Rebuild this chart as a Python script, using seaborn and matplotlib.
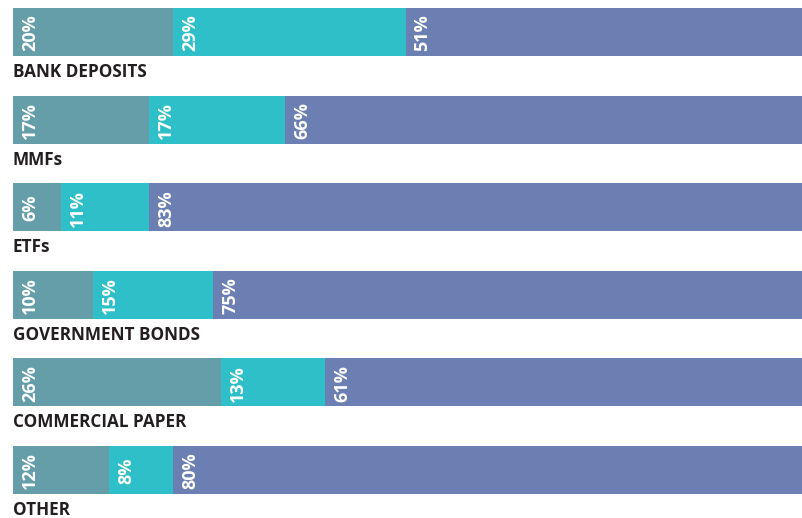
import matplotlib
matplotlib.use("Agg")
import matplotlib.pyplot as plt
import seaborn as sns
import pandas as pd
import numpy as np

categories = ["BANK DEPOSITS", "MMFs", "ETFs", "GOVERNMENT BONDS", "COMMERCIAL PAPER", "OTHER"]
seg1 = [20, 17, 6, 10, 26, 12]
seg2 = [29, 17, 11, 15, 13, 8]
seg3 = [51, 66, 83, 75, 61, 80]

colors = ["#659EA8", "#2EBFC8", "#6B7FB3"]
label_color = "#231F20"

sns.set_theme(style="white")
plt.rcParams["font.family"] = ["Open Sans", "DejaVu Sans"]

df = pd.DataFrame({"cat": categories, "s1": seg1, "s2": seg2, "s3": seg3})
df["c1"] = df["s1"]
df["c2"] = df["s1"] + df["s2"]
df["c3"] = df["s1"] + df["s2"] + df["s3"]

fig = plt.figure(figsize=(8.03, 5.18), dpi=100)
ax = fig.add_axes([13 / 803, 0, 1 - 13 / 803, 1])

bw = 0.548
for col, c in zip(["c3", "c2", "c1"], colors[::-1]):
    sns.barplot(data=df, x=col, y="cat", order=categories, color=c,
                width=bw, saturation=1, ax=ax, linewidth=0, orient="h")

ax.set_xlim(0, 98.6)
ax.set_ylim(5 + 48 / 87.6, -32 / 87.6)
ax.set_axis_off()

starts = np.column_stack([np.zeros(len(seg1)), df["c1"].values, df["c2"].values])
vals = np.column_stack([seg1, seg2, seg3])
for i in range(len(categories)):
    for j in range(3):
        ax.annotate(f"{vals[i, j]}%", xy=(starts[i, j], i), xytext=(17, -1),
                    textcoords="offset pixels", rotation=90, ha="center", va="center",
                    color="white", fontsize=13, fontweight="bold")
    ax.annotate(categories[i], xy=(0, i + bw / 2), xytext=(0, -16),
                textcoords="offset pixels", ha="left", va="center",
                color=label_color, fontsize=12.3, fontweight="bold")

fig.savefig("out.png", dpi=100)
